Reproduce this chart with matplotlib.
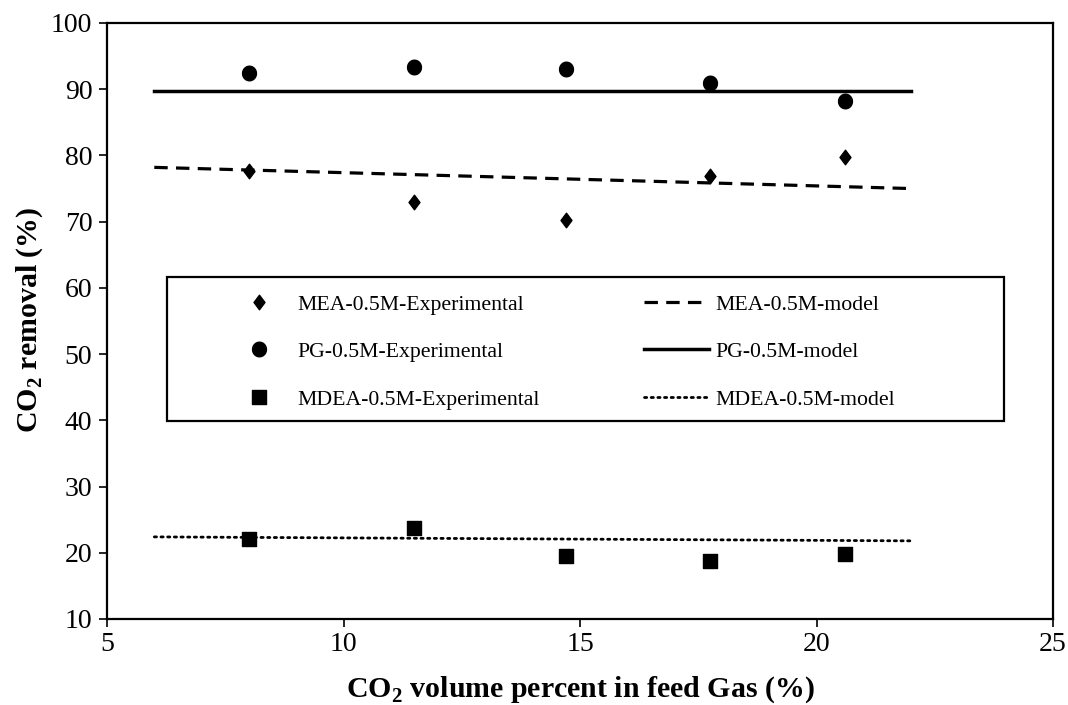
import numpy as np
import matplotlib
matplotlib.use("Agg")
import matplotlib.pyplot as plt
from matplotlib.path import Path
from matplotlib.patches import Rectangle

plt.rcParams['font.family'] = ['Liberation Serif', 'DejaVu Serif']
plt.rcParams['mathtext.fontset'] = 'custom'
plt.rcParams['mathtext.rm'] = 'Liberation Serif'
plt.rcParams['mathtext.bf'] = 'Liberation Serif:bold'

# Experimental feed-gas CO2 content (%) and measured removal (%)
feed_co2 = [8.0, 11.5, 14.7, 17.75, 20.6]
mea_exp = [77.7, 72.9, 70.3, 76.9, 79.7]
pg_exp = [92.4, 93.3, 93.1, 91.0, 88.2]
mdea_exp = [22.1, 23.8, 19.5, 18.8, 19.8]

# Model predictions over the simulated feed range (end points)
model_feed = [6.0, 22.0]
mea_model = [78.2, 75.0]
pg_model = [89.7, 89.7]
mdea_model = [22.4, 21.8]

x_ticks = [5, 10, 15, 20, 25]
y_ticks = [10, 20, 30, 40, 50, 60, 70, 80, 90, 100]

W, H = 1068, 705
AX_L, AX_R, AX_T, AX_B = 107, 1053, 23, 619


def ellipse_marker(w, h, n=60):
    t = np.linspace(0, 2 * np.pi, n)
    verts = np.column_stack([w * np.cos(t), h * np.sin(t)])
    return Path(verts, closed=True)


def rect_marker(w, h):
    verts = [(-w, -h), (w, -h), (w, h), (-w, h), (-w, -h)]
    return Path(verts, closed=True)


def diamond_marker(w, h):
    verts = [(0, -h), (w, 0), (0, h), (-w, 0), (0, -h)]
    return Path(verts, closed=True)


def ax_x(px):
    return (px - AX_L) / (AX_R - AX_L)


def ax_y(py):
    return (AX_B - py) / (AX_B - AX_T)


circle_m = ellipse_marker(0.95, 1.0)
square_m = rect_marker(0.95, 1.0)
diamond_m = diamond_marker(0.75, 1.0)

fig = plt.figure(figsize=(W / 100, H / 100), dpi=100)
ax = fig.add_axes([AX_L / W, 1 - AX_B / H, (AX_R - AX_L) / W,
                   (AX_B - AX_T) / H])

h1, = ax.plot(feed_co2, mea_exp, linestyle='none', marker=diamond_m,
              markersize=10.5, color='black', label='MEA-0.5M-Experimental')
h2, = ax.plot(feed_co2, pg_exp, linestyle='none', marker=circle_m,
              markersize=10.5, color='black', label='PG-0.5M-Experimental')
h3, = ax.plot(feed_co2, mdea_exp, linestyle='none', marker=square_m,
              markersize=10.5, color='black', label='MDEA-0.5M-Experimental')
h4, = ax.plot(model_feed, mea_model, color='black', linewidth=2.3,
              linestyle=(0, (4.2, 2.6)), label='MEA-0.5M-model')
h5, = ax.plot(model_feed, pg_model, color='black', linewidth=2.5,
              linestyle='-', label='PG-0.5M-model')
h6, = ax.plot(model_feed, mdea_model, color='black', linewidth=2.0,
              linestyle=(0, (0.8, 1.6)), dash_capstyle='round',
              label='MDEA-0.5M-model')

ax.set_xlim(5, 25)
ax.set_ylim(10, 100)
ax.set_xticks(x_ticks)
ax.set_yticks(y_ticks)
ax.tick_params(axis='both', direction='out', length=5.5, width=1.2,
               labelsize=20, colors='black')
ax.tick_params(axis='x', pad=4)
ax.tick_params(axis='y', pad=5)
for side in ['left', 'bottom', 'top', 'right']:
    ax.spines[side].set_linewidth(1.6)
    ax.spines[side].set_color('black')

ax.set_xlabel(r'CO$_\mathbf{2}$ volume percent in feed Gas (%)',
              fontsize=21.5, fontweight='bold', va='center')
ax.xaxis.set_label_coords(0.5, ax_y(690))
ax.set_ylabel(r'CO$_\mathbf{2}$ removal (%)', fontsize=21.5,
              fontweight='bold', va='center')
ax.yaxis.set_label_coords(ax_x(30), ax_y(320))

# Legend: boxed panel with experimental entries on the left and
# model curves on the right
frame = Rectangle((ax_x(167), ax_y(421)), ax_x(1004) - ax_x(167),
                  ax_y(277) - ax_y(421), transform=ax.transAxes,
                  facecolor='white', edgecolor='black', linewidth=1.6,
                  zorder=4)
ax.add_patch(frame)

leg_kw = dict(frameon=False, fontsize=15.7, handlelength=3.0,
              handletextpad=0.25, labelspacing=1.25, borderpad=0,
              borderaxespad=0, loc='center left')
leg_exp = ax.legend(handles=[h1, h2, h3],
                    bbox_to_anchor=(ax_x(226), ax_y(352)), **leg_kw)
leg_exp.set_zorder(5)
ax.add_artist(leg_exp)
leg_mod = ax.legend(handles=[h4, h5, h6],
                    bbox_to_anchor=(ax_x(644), ax_y(352)), **leg_kw)
leg_mod.set_zorder(5)

fig.savefig('out.png', dpi=100)
